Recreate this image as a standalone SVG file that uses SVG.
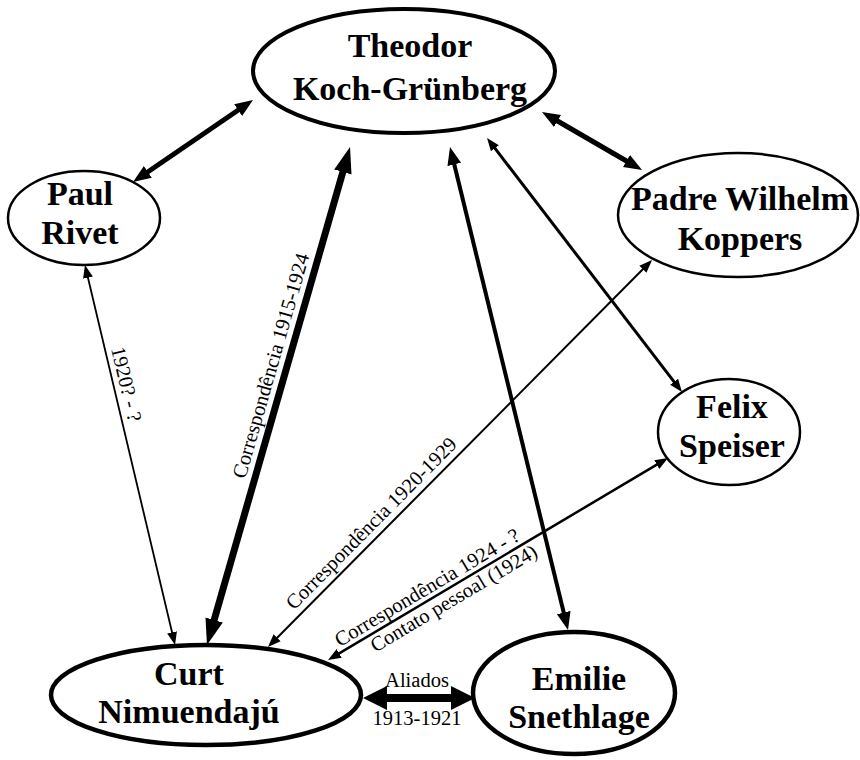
<svg xmlns="http://www.w3.org/2000/svg" width="860" height="760" viewBox="0 0 860 760">
<style>
.node{fill:#fff;stroke:#000}
.nt{font-family:"Liberation Serif","Times New Roman",serif;font-weight:bold;font-size:34px;text-anchor:middle;fill:#000}
.lt{font-family:"Liberation Serif","Times New Roman",serif;font-size:20.5px;text-anchor:middle;fill:#000}
.c{fill:none;stroke:#000}
</style>
<defs>
<marker id="hL" markerUnits="userSpaceOnUse" markerWidth="30" markerHeight="22" refX="2" refY="10" orient="auto-start-reverse" viewBox="0 0 30 20"><path d="M0,1 L26,10 L0,19 Z" fill="#000"/></marker>
<marker id="hM" markerUnits="userSpaceOnUse" markerWidth="20" markerHeight="16" refX="2" refY="7" orient="auto-start-reverse" viewBox="0 0 20 14"><path d="M0,0 L18,7 L0,14 Z" fill="#000"/></marker>
<marker id="hS" markerUnits="userSpaceOnUse" markerWidth="14" markerHeight="12" refX="2" refY="5" orient="auto-start-reverse" viewBox="0 0 14 10"><path d="M0,0 L13,5 L0,10 Z" fill="#000"/></marker>
<marker id="hX" markerUnits="userSpaceOnUse" markerWidth="26" markerHeight="26" refX="2" refY="12" orient="auto-start-reverse" viewBox="0 0 26 24"><path d="M0,0 L24,12 L0,24 Z" fill="#000"/></marker>
</defs>
<rect width="860" height="760" fill="#fff"/>
<g id="connectors">
<path class="c" d="M239.8,109 L146.2,173" stroke-width="5" marker-start="url(#hM)" marker-end="url(#hM)"/>
<path class="c" d="M555.8,120 L628.2,162" stroke-width="5" marker-start="url(#hM)" marker-end="url(#hM)"/>
<path class="c" d="M493.7,146.7 L675.3,383.3" stroke-width="3" marker-start="url(#hS)" marker-end="url(#hS)"/>
<path class="c" d="M453.8,162.5 L564.2,614.5" stroke-width="4" marker-start="url(#hM)" marker-end="url(#hM)"/>
<path class="c" d="M343.4,170.1 L213.6,621.9" stroke-width="7" marker-start="url(#hL)" marker-end="url(#hL)"/>
<path class="c" d="M87.5,275.7 L172.5,634.3" stroke-width="1.8" marker-start="url(#hS)" marker-end="url(#hS)"/>
<path class="c" d="M275.7,639.2 L644.3,267.8" stroke-width="2" marker-start="url(#hS)" marker-end="url(#hS)"/>
<path class="c" d="M337.5,654.4 L658.5,463.6" stroke-width="2.5" marker-start="url(#hS)" marker-end="url(#hS)"/>
<path class="c" d="M385,698 L453,698" stroke-width="8" marker-start="url(#hX)" marker-end="url(#hX)"/>
<text class="lt" transform="translate(113.9,387) rotate(76.7)" y="-6">1920? - ?</text>
<text class="lt" transform="translate(286,370) rotate(-73.98)" y="-9">Correspondência 1915-1924</text>
<text class="lt" transform="translate(381,533) rotate(-45.2)" y="-7">Correspondência 1920-1929</text>
<text class="lt" transform="translate(433,597.6) rotate(-30.7)" y="-5">Correspondência 1924 - ?</text>
<text class="lt" transform="translate(448,588.7) rotate(-30.7)" y="18">Contato pessoal (1924)</text>
<text class="lt" x="417" y="687">Aliados</text>
<text class="lt" x="417" y="725">1913-1921</text>
</g>
<g id="theodor">
<ellipse class="node" cx="404" cy="71" rx="151" ry="62" stroke-width="4"/>
<text class="nt" x="410" y="57">Theodor</text>
<text class="nt" x="410" y="100">Koch-Grünberg</text>
</g>
<g id="rivet">
<ellipse class="node" cx="84" cy="218" rx="76" ry="47" stroke-width="2.5"/>
<text class="nt" x="80" y="205">Paul</text>
<text class="nt" x="80" y="244">Rivet</text>
</g>
<g id="koppers">
<ellipse class="node" cx="738" cy="215" rx="120" ry="62" stroke-width="2.5"/>
<text class="nt" x="740" y="210">Padre Wilhelm</text>
<text class="nt" x="740" y="250">Koppers</text>
</g>
<g id="speiser">
<ellipse class="node" cx="729" cy="432" rx="71" ry="53" stroke-width="2.5"/>
<text class="nt" x="732" y="418">Felix</text>
<text class="nt" x="732" y="457">Speiser</text>
</g>
<g id="nimuendaju">
<ellipse class="node" cx="206" cy="695" rx="155" ry="50" stroke-width="4.5"/>
<text class="nt" x="189" y="685">Curt</text>
<text class="nt" x="189" y="723">Nimuendajú</text>
</g>
<g id="snethlage">
<ellipse class="node" cx="574" cy="693" rx="101" ry="61" stroke-width="4.5"/>
<text class="nt" x="579" y="690">Emilie</text>
<text class="nt" x="579" y="728">Snethlage</text>
</g>
</svg>
